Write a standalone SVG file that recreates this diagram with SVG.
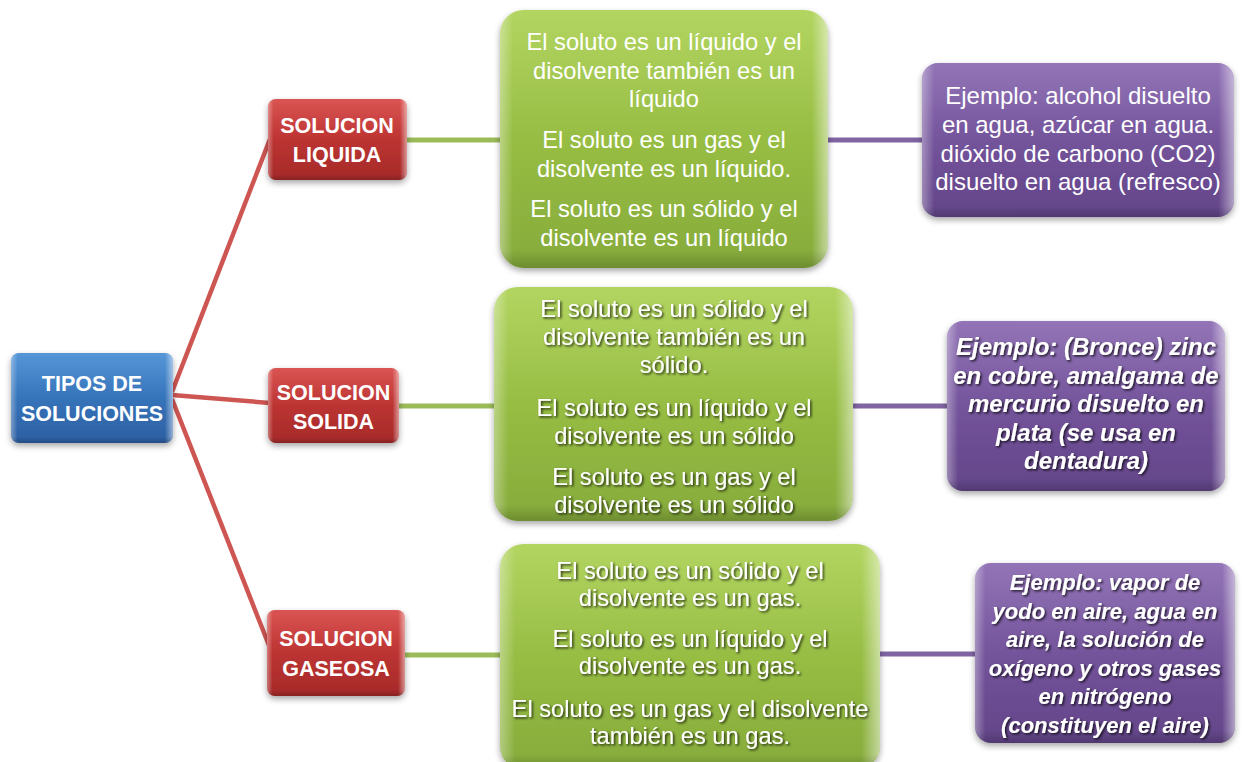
<svg xmlns="http://www.w3.org/2000/svg" width="1242" height="762" viewBox="0 0 1242 762">
<style>
.t{font-family:"Liberation Sans",Arial,sans-serif;fill:#ffffff;text-anchor:middle}
.b{font-weight:bold;font-size:21.5px}
.g{font-size:23.7px}
.p1{font-size:24px}
.bi{font-weight:bold;font-style:italic}
.cr{stroke:#cd5552;stroke-width:4.5;fill:none}
.cg{stroke:#9bbb59;stroke-width:5;fill:none}
.cp{stroke:#8064a2;stroke-width:5;fill:none}
.hl{fill:url(#hl)}
.vs{fill:url(#vs)}
</style>
<defs>
<filter id="sh" x="-10%" y="-10%" width="120%" height="130%">
<feDropShadow dx="0" dy="3" stdDeviation="3" flood-color="#000" flood-opacity="0.35"/>
</filter>
<filter id="ts" x="-5%" y="-20%" width="110%" height="150%">
<feDropShadow dx="1.5" dy="1.5" stdDeviation="0.8" flood-color="#000" flood-opacity="0.75"/>
</filter>
<linearGradient id="hl" x1="0" y1="0" x2="1" y2="0">
<stop offset="0" stop-color="#fff" stop-opacity="0.35"/>
<stop offset="0.04" stop-color="#fff" stop-opacity="0"/>
<stop offset="0.95" stop-color="#fff" stop-opacity="0"/>
<stop offset="1" stop-color="#fff" stop-opacity="0.5"/>
</linearGradient>
<linearGradient id="vs" x1="0" y1="0" x2="0" y2="1">
<stop offset="0" stop-color="#fff" stop-opacity="0.12"/>
<stop offset="0.5" stop-color="#fff" stop-opacity="0"/>
<stop offset="0.93" stop-color="#000" stop-opacity="0"/>
<stop offset="1" stop-color="#000" stop-opacity="0.18"/>
</linearGradient>
<linearGradient id="gb" x1="0" y1="0" x2="0" y2="1">
<stop offset="0" stop-color="#3f88d2"/>
<stop offset="1" stop-color="#2d5fa2"/>
</linearGradient>
<linearGradient id="gr" x1="0" y1="0" x2="0" y2="1">
<stop offset="0" stop-color="#d43d3b"/>
<stop offset="1" stop-color="#a52a29"/>
</linearGradient>
<linearGradient id="gg" x1="0" y1="0" x2="0" y2="1">
<stop offset="0" stop-color="#a8cf4c"/>
<stop offset="1" stop-color="#86ab3b"/>
</linearGradient>
<linearGradient id="gp" x1="0" y1="0" x2="0" y2="1">
<stop offset="0" stop-color="#8462ad"/>
<stop offset="1" stop-color="#634589"/>
</linearGradient>
</defs>
<rect width="1242" height="762" fill="#ffffff"/>
<g id="connectors">
<line class="cr" x1="172" y1="392" x2="270" y2="139"/>
<line class="cr" x1="172" y1="395" x2="270" y2="403"/>
<line class="cr" x1="172" y1="399" x2="270" y2="648"/>
<line class="cg" x1="405" y1="140" x2="502" y2="140"/>
<line class="cg" x1="397" y1="406" x2="496" y2="406"/>
<line class="cg" x1="403" y1="655" x2="502" y2="655"/>
<line class="cp" x1="826" y1="140" x2="924" y2="140"/>
<line class="cp" x1="851" y1="406" x2="949" y2="406"/>
<line class="cp" x1="878" y1="654" x2="977" y2="654"/>
</g>
<g id="tipos">
<rect x="11" y="353" width="162" height="90" rx="8" fill="url(#gb)" filter="url(#sh)"/>
<rect class="hl" x="11" y="353" width="162" height="90" rx="8"/>
<rect class="vs" x="11" y="353" width="162" height="90" rx="8"/>
<text class="t b" x="92" y="390.5">TIPOS DE</text>
<text class="t b" x="92" y="420.5">SOLUCIONES</text>
</g>
<g id="liquida">
<rect x="268" y="99" width="139" height="81" rx="8" fill="url(#gr)" filter="url(#sh)"/>
<rect class="hl" x="268" y="99" width="139" height="81" rx="8"/>
<rect class="vs" x="268" y="99" width="139" height="81" rx="8"/>
<text class="t b" x="337" y="133">SOLUCION</text>
<text class="t b" x="337" y="162">LIQUIDA</text>
</g>
<g id="solida">
<rect x="268" y="368" width="131" height="75" rx="8" fill="url(#gr)" filter="url(#sh)"/>
<rect class="hl" x="268" y="368" width="131" height="75" rx="8"/>
<rect class="vs" x="268" y="368" width="131" height="75" rx="8"/>
<text class="t b" x="333.5" y="400">SOLUCION</text>
<text class="t b" x="333.5" y="429">SOLIDA</text>
</g>
<g id="gaseosa">
<rect x="267" y="610" width="138" height="86" rx="8" fill="url(#gr)" filter="url(#sh)"/>
<rect class="hl" x="267" y="610" width="138" height="86" rx="8"/>
<rect class="vs" x="267" y="610" width="138" height="86" rx="8"/>
<text class="t b" x="336" y="646">SOLUCION</text>
<text class="t b" x="336" y="676">GASEOSA</text>
</g>
<g id="liquida-tipos">
<rect x="500" y="10" width="328" height="258" rx="24" fill="url(#gg)" filter="url(#sh)"/>
<rect class="hl" x="500" y="10" width="328" height="258" rx="24"/>
<rect class="vs" x="500" y="10" width="328" height="258" rx="24"/>
<text class="t g" x="664" y="50">El soluto es un líquido y el</text>
<text class="t g" x="664" y="78.5">disolvente también es un</text>
<text class="t g" x="664" y="107">líquido</text>
<text class="t g" x="664" y="148">El soluto es un gas y el</text>
<text class="t g" x="664" y="176.5">disolvente es un líquido.</text>
<text class="t g" x="664" y="217">El soluto es un sólido y el</text>
<text class="t g" x="664" y="245.5">disolvente es un líquido</text>
</g>
<g id="solida-tipos">
<rect x="494" y="287" width="359" height="234" rx="24" fill="url(#gg)" filter="url(#sh)"/>
<rect class="hl" x="494" y="287" width="359" height="234" rx="24"/>
<rect class="vs" x="494" y="287" width="359" height="234" rx="24"/>
<g filter="url(#ts)">
<text class="t g" x="674" y="317">El soluto es un sólido y el</text>
<text class="t g" x="674" y="345">disolvente también es un</text>
<text class="t g" x="674" y="373">sólido.</text>
<text class="t g" x="674" y="416">El soluto es un líquido y el</text>
<text class="t g" x="674" y="444">disolvente es un sólido</text>
<text class="t g" x="674" y="485">El soluto es un gas y el</text>
<text class="t g" x="674" y="513">disolvente es un sólido</text>
</g>
</g>
<g id="gaseosa-tipos">
<rect x="500" y="544" width="380" height="226" rx="24" fill="url(#gg)" filter="url(#sh)"/>
<rect class="hl" x="500" y="544" width="380" height="226" rx="24"/>
<rect class="vs" x="500" y="544" width="380" height="226" rx="24"/>
<g filter="url(#ts)">
<text class="t g" x="690" y="579">El soluto es un sólido y el</text>
<text class="t g" x="690" y="606">disolvente es un gas.</text>
<text class="t g" x="690" y="647">El soluto es un líquido y el</text>
<text class="t g" x="690" y="674">disolvente es un gas.</text>
<text class="t g" x="690" y="717">El soluto es un gas y el disolvente</text>
<text class="t g" x="690" y="744">también es un gas.</text>
</g>
</g>
<g id="ejemplo-liquida">
<rect x="922" y="63" width="312" height="154" rx="16" fill="url(#gp)" filter="url(#sh)"/>
<rect class="hl" x="922" y="63" width="312" height="154" rx="16"/>
<rect class="vs" x="922" y="63" width="312" height="154" rx="16"/>
<text class="t p1" x="1078" y="104">Ejemplo: alcohol disuelto</text>
<text class="t p1" x="1078" y="133">en agua, azúcar en agua.</text>
<text class="t p1" x="1078" y="162">dióxido de carbono (CO2)</text>
<text class="t p1" x="1078" y="190">disuelto en agua (refresco)</text>
</g>
<g id="ejemplo-solida">
<rect x="947" y="321" width="278" height="170" rx="16" fill="url(#gp)" filter="url(#sh)"/>
<rect class="hl" x="947" y="321" width="278" height="170" rx="16"/>
<rect class="vs" x="947" y="321" width="278" height="170" rx="16"/>
<g filter="url(#ts)">
<text class="t bi" font-size="24" x="1086" y="355">Ejemplo: (Bronce) zinc</text>
<text class="t bi" font-size="24" x="1086" y="384">en cobre, amalgama de</text>
<text class="t bi" font-size="24" x="1086" y="412">mercurio disuelto en</text>
<text class="t bi" font-size="24" x="1086" y="441">plata (se usa en</text>
<text class="t bi" font-size="24" x="1086" y="469">dentadura)</text>
</g>
</g>
<g id="ejemplo-gaseosa">
<rect x="975" y="563" width="260" height="180" rx="16" fill="url(#gp)" filter="url(#sh)"/>
<rect class="hl" x="975" y="563" width="260" height="180" rx="16"/>
<rect class="vs" x="975" y="563" width="260" height="180" rx="16"/>
<g filter="url(#ts)">
<text class="t bi" font-size="22" x="1105" y="590">Ejemplo: vapor de</text>
<text class="t bi" font-size="22" x="1105" y="619">yodo en aire, agua en</text>
<text class="t bi" font-size="22" x="1105" y="647">aire, la solución de</text>
<text class="t bi" font-size="22" x="1105" y="676">oxígeno y otros gases</text>
<text class="t bi" font-size="22" x="1105" y="704">en nitrógeno</text>
<text class="t bi" font-size="22" x="1105" y="733">(constituyen el aire)</text>
</g>
</g>
</svg>
